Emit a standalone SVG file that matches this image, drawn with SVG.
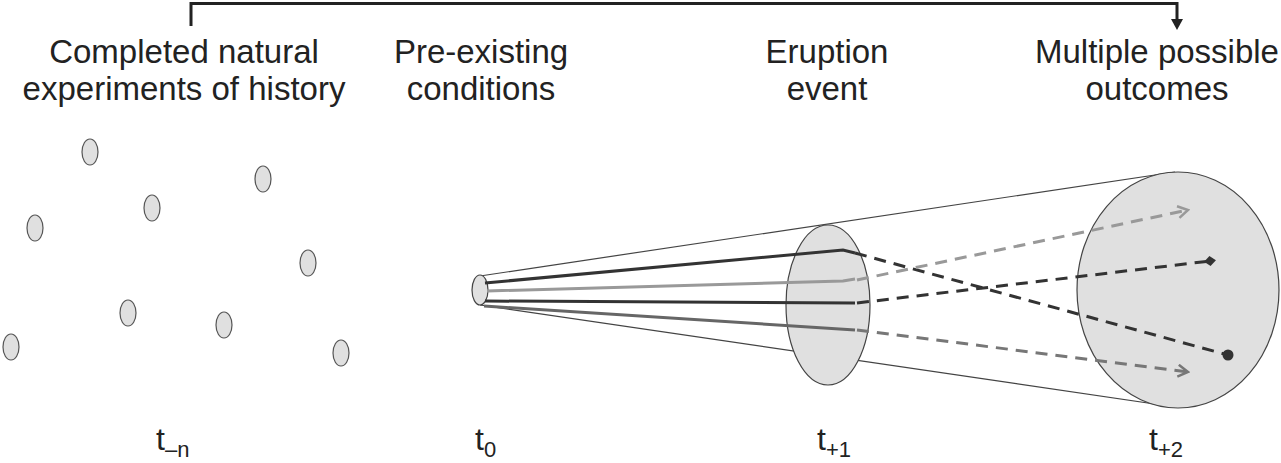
<svg xmlns="http://www.w3.org/2000/svg" width="1281" height="463" viewBox="0 0 1281 463">
<style>
.lbl{font-family:"Liberation Sans",Arial,sans-serif;font-size:33px;fill:#222;text-anchor:middle}
.t{font-family:"Liberation Sans",Arial,sans-serif;font-size:32px;fill:#222}
.sub{font-size:22px}
.dot{fill:#e0e0e0;stroke:#555;stroke-width:1.2}
.cone{fill:#e0e0e0;stroke:#444;stroke-width:1.2}
.edge{stroke:#444;stroke-width:1.2;fill:none}
.s{fill:none;stroke-width:3}
.d{fill:none;stroke-width:3;stroke-dasharray:12 8}
</style>
<defs>
<marker id="chevl" viewBox="0 0 14 14" refX="12" refY="7" markerWidth="14" markerHeight="14" orient="auto" markerUnits="userSpaceOnUse">
<path d="M2,1 L12,7 L2,13" fill="none" stroke="#999" stroke-width="2.5"/>
</marker>
<marker id="chevm" viewBox="0 0 14 14" refX="12" refY="7" markerWidth="14" markerHeight="14" orient="auto" markerUnits="userSpaceOnUse">
<path d="M2,1 L12,7 L2,13" fill="none" stroke="#777" stroke-width="2.5"/>
</marker>
<marker id="diam" viewBox="0 0 12 12" refX="6" refY="6" markerWidth="12" markerHeight="12" orient="auto" markerUnits="userSpaceOnUse">
<path d="M0,6 L6,1 L12,6 L6,11 Z" fill="#333"/>
</marker>
<marker id="dotm" viewBox="0 0 12 12" refX="6" refY="6" markerWidth="12" markerHeight="12" markerUnits="userSpaceOnUse">
<circle cx="6" cy="6" r="5.5" fill="#333"/>
</marker>
</defs>

<g id="timeline-bracket">
<path d="M191,26 V3.5 H1177 V20" fill="none" stroke="#222" stroke-width="3"/>
<path d="M1171,19 L1183,19 L1177,30 Z" fill="#222"/>
</g>

<g id="header-history"><text class="lbl" x="184" y="63">Completed natural</text><text class="lbl" x="184" y="100">experiments of history</text></g>
<g id="header-preexisting"><text class="lbl" x="481" y="63">Pre-existing</text><text class="lbl" x="481" y="100">conditions</text></g>
<g id="header-eruption"><text class="lbl" x="827" y="63">Eruption</text><text class="lbl" x="827" y="100">event</text></g>
<g id="header-outcomes"><text class="lbl" x="1157" y="63">Multiple possible</text><text class="lbl" x="1157" y="100">outcomes</text></g>

<g id="history-experiments">
<ellipse class="dot" cx="90" cy="152" rx="8" ry="13"/>
<ellipse class="dot" cx="263" cy="179" rx="8" ry="13"/>
<ellipse class="dot" cx="152" cy="208" rx="8" ry="13"/>
<ellipse class="dot" cx="35" cy="228" rx="8" ry="13"/>
<ellipse class="dot" cx="308" cy="263" rx="8" ry="13"/>
<ellipse class="dot" cx="128" cy="313" rx="8" ry="13"/>
<ellipse class="dot" cx="224" cy="325" rx="8" ry="13"/>
<ellipse class="dot" cx="11" cy="347" rx="8" ry="13"/>
<ellipse class="dot" cx="341" cy="353" rx="8" ry="13"/>
</g>

<g id="cone">
<line class="edge" x1="480" y1="276" x2="1175" y2="172"/>
<line class="edge" x1="480" y1="305" x2="1175" y2="407"/>
<ellipse class="cone" cx="1178" cy="290" rx="101" ry="118"/>
<ellipse class="cone" cx="828" cy="305" rx="42" ry="80"/>
<ellipse class="cone" cx="480" cy="290" rx="8" ry="15"/>
</g>

<g id="connectors">
<path class="s" stroke="#333" d="M485,283 L843,250 L855,253"/>
<path class="s" stroke="#999" d="M487,291 L843,281 L855,279"/>
<path class="s" stroke="#333" d="M485,301 L855,303"/>
<path class="s" stroke="#666" d="M484,306 L855,330"/>
<path class="d" stroke="#333" d="M855,253 L1228,355" marker-end="url(#dotm)"/>
<path class="d" stroke="#999" d="M857,280 L1188,210" marker-end="url(#chevl)"/>
<path class="d" stroke="#333" d="M857,303 L1210,261" marker-end="url(#diam)"/>
<path class="d" stroke="#777" d="M857,330 L1188,372" marker-end="url(#chevm)"/>
</g>

<g id="time-labels">
<text class="t" x="156" y="450">t<tspan class="sub" dy="7">–n</tspan></text>
<text class="t" x="475" y="450">t<tspan class="sub" dy="7">0</tspan></text>
<text class="t" x="817" y="450">t<tspan class="sub" dy="7">+1</tspan></text>
<text class="t" x="1149" y="450">t<tspan class="sub" dy="7">+2</tspan></text>
</g>
</svg>
